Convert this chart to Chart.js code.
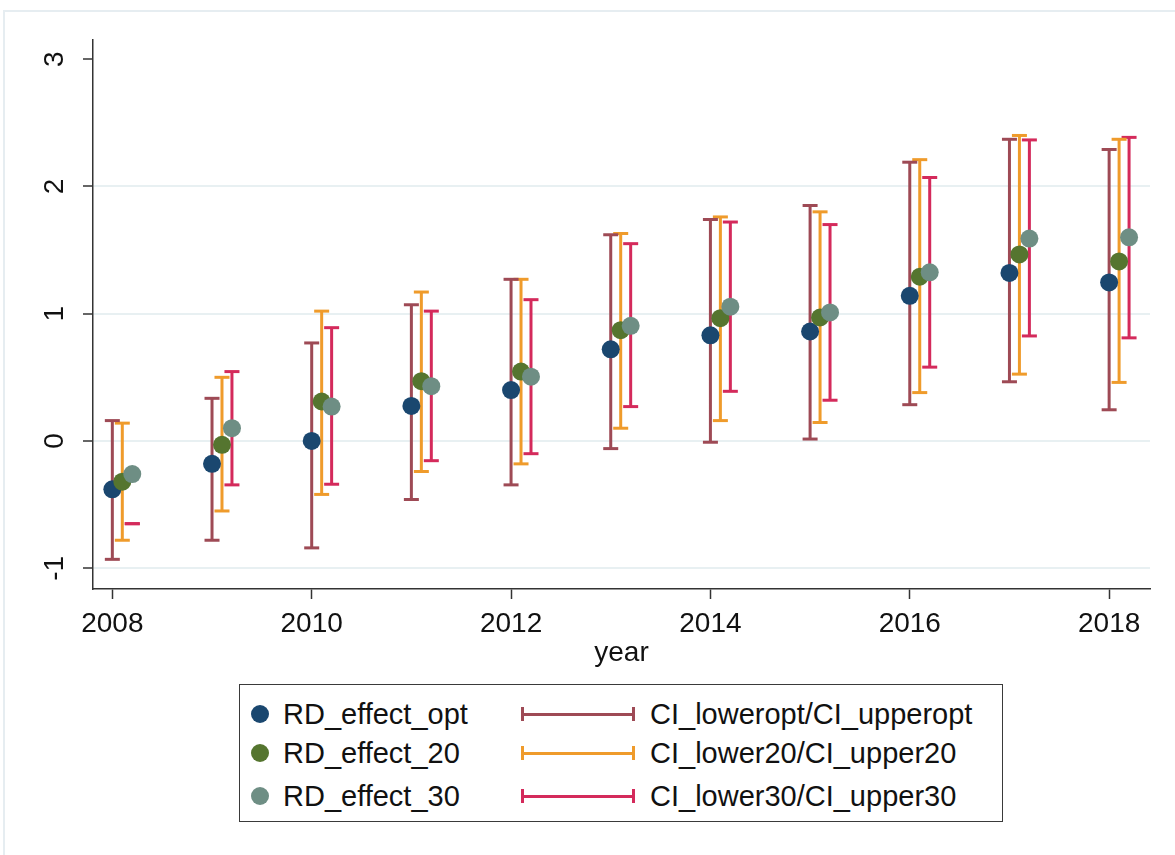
<!DOCTYPE html>
<html>
<head>
<meta charset="utf-8">
<title>RD effects by year</title>
<script src="https://cdn.jsdelivr.net/npm/chart.js@4.4.1/dist/chart.umd.min.js"></script>
<style>
  html, body { margin: 0; padding: 0; background: #ffffff; }
  #wrap { position: relative; width: 1175px; height: 855px; overflow: hidden; font-family: "Liberation Sans", Arial, sans-serif; }
  #frame { position: absolute; left: 3px; top: 10px; width: 1200px; height: 900px; border-left: 2px solid #e6edf1; border-top: 2px solid #e6edf1; }
  #chart { position: absolute; left: 0; top: 0; }
  #legend { position: absolute; left: 239px; top: 684px; width: 762px; height: 136px; border: 1.5px solid #3a3a3a; background: #fff; }
  .item { position: absolute; height: 34px; display: flex; align-items: center; font-size: 29px; color: #111; white-space: nowrap; }
  .dot { position: absolute; width: 18px; height: 18px; border-radius: 50%; }
  .key { position: absolute; height: 14px; }
  .key .bar { position: absolute; left: 0; right: 0; top: 5.5px; height: 3px; }
  .key .cap { position: absolute; top: 0; width: 3px; height: 14px; }
</style>
</head>
<body>
<div id="wrap">
  <div id="frame"></div>
  <canvas id="chart" width="1175" height="855"></canvas>
  <div id="legend"></div>
</div>
<script>
// Survey years on the x axis
const years = [2008, 2009, 2010, 2011, 2012, 2013, 2014, 2015, 2016, 2017, 2018];

// Point estimates of the RD effect for the three bandwidths
const rdEffectOpt = [-0.38, -0.18, 0.00, 0.275, 0.40, 0.72, 0.83, 0.86, 1.14, 1.32, 1.245];
const rdEffect20  = [-0.32, -0.03, 0.31, 0.47, 0.545, 0.87, 0.965, 0.97, 1.29, 1.465, 1.41];
const rdEffect30  = [-0.26, 0.10, 0.27, 0.43, 0.505, 0.905, 1.055, 1.01, 1.325, 1.59, 1.60];

// Confidence interval bounds
const ciLowerOpt = [-0.93, -0.78, -0.84, -0.46, -0.345, -0.06, -0.01, 0.015, 0.285, 0.465, 0.245];
const ciUpperOpt = [0.16, 0.335, 0.77, 1.07, 1.27, 1.62, 1.74, 1.85, 2.19, 2.37, 2.29];
const ciLower20  = [-0.78, -0.55, -0.42, -0.24, -0.18, 0.10, 0.16, 0.145, 0.38, 0.525, 0.46];
const ciUpper20  = [0.14, 0.50, 1.02, 1.17, 1.27, 1.63, 1.76, 1.80, 2.21, 2.40, 2.37];
const ciLower30  = [-0.65, -0.345, -0.34, -0.155, -0.10, 0.27, 0.39, 0.32, 0.58, 0.825, 0.81];
const ciUpper30  = [-0.65, 0.545, 0.89, 1.02, 1.11, 1.55, 1.72, 1.70, 2.07, 2.365, 2.385];

// Axis ticks
const xTicks = [2008, 2010, 2012, 2014, 2016, 2018];
const yTicks = [-1, 0, 1, 2, 3];

const FONT = '"Liberation Sans", Arial, sans-serif';
const C = {
  navy: '#1a476f', forest: '#55752f', teal: '#6e8e84',
  maroon: '#9e4a55', orange: '#ef9b2b', cranberry: '#d42a5b'
};

// small horizontal shift so the three bandwidths sit side by side
const SHIFT = { opt: 0, b20: 0.1, b30: 0.2 };

function pointsOf(values, shift) {
  return years.map((yr, i) => ({ x: yr + shift, y: values[i] }));
}
// each interval is a two-point segment, separated by a gap
function capsOf(lower, upper, shift) {
  const out = [];
  years.forEach((yr, i) => {
    out.push({ x: yr + shift, y: lower[i] });
    out.push({ x: yr + shift, y: upper[i] });
    out.push({ x: yr + shift, y: null });
  });
  return out;
}

function dotSet(label, values, shift, color, order) {
  return {
    type: 'scatter', label, data: pointsOf(values, shift), order,
    pointRadius: 9, pointHoverRadius: 9, pointBackgroundColor: color,
    pointBorderColor: color, pointBorderWidth: 0, showLine: false
  };
}
function capSet(label, lower, upper, shift, color) {
  return {
    type: 'line', label, data: capsOf(lower, upper, shift), order: 10,
    borderColor: color, borderWidth: 3, spanGaps: false, tension: 0,
    pointStyle: 'line', pointRadius: 7.5, pointHoverRadius: 7.5,
    pointBorderColor: color, pointBorderWidth: 3, fill: false
  };
}

const datasets = [
  capSet('CI_loweropt/CI_upperopt', ciLowerOpt, ciUpperOpt, SHIFT.opt, C.maroon),
  capSet('CI_lower20/CI_upper20', ciLower20, ciUpper20, SHIFT.b20, C.orange),
  capSet('CI_lower30/CI_upper30', ciLower30, ciUpper30, SHIFT.b30, C.cranberry),
  dotSet('RD_effect_opt', rdEffectOpt, SHIFT.opt, C.navy, 3),
  dotSet('RD_effect_20', rdEffect20, SHIFT.b20, C.forest, 2),
  dotSet('RD_effect_30', rdEffect30, SHIFT.b30, C.teal, 1)
];

const tickFont = { family: FONT, size: 28 };

const chart = new Chart(document.getElementById('chart'), {
  type: 'scatter',
  data: { datasets },
  options: {
    responsive: false,
    animation: false,
    events: [],
    layout: { padding: { left: 0, top: 40, right: 25, bottom: 185 } },
    plugins: { legend: { display: false }, tooltip: { enabled: false } },
    scales: {
      x: {
        type: 'linear', min: 2007.806, max: 2018.41,
        afterBuildTicks: s => { s.ticks = xTicks.map(v => ({ value: v })); },
        afterFit: s => { s.height = 81; },
        ticks: { font: tickFont, color: '#111', padding: 8, maxRotation: 0, autoSkip: false,
                 callback: v => String(v) },
        grid: { drawOnChartArea: false, tickLength: 10, tickColor: '#333', tickWidth: 1.5 },
        border: { display: true, color: '#333', width: 1.5 },
        title: { display: true, text: 'year', font: tickFont, color: '#111', padding: { top: 0, bottom: 0 } }
      },
      y: {
        type: 'linear', min: -1.163, max: 3.15,
        afterBuildTicks: s => { s.ticks = yTicks.map(v => ({ value: v })); },
        afterFit: s => { s.width = 93; },
        ticks: { font: tickFont, color: '#111', padding: 15, minRotation: 90, maxRotation: 90,
                 crossAlign: 'center', autoSkip: false, callback: v => String(v) },
        grid: {
          color: ctx => (ctx.tick && ctx.tick.value === 3) ? 'rgba(0,0,0,0)' : '#e8f0f2',
          lineWidth: 2, tickLength: 10, tickColor: '#333', tickWidth: 1.5
        },
        border: { display: true, color: '#333', width: 1.5 }
      }
    }
  }
});

// Legend: two columns (markers | intervals), three rows
(function buildLegend() {
  const box = document.getElementById('legend');
  const byLabel = {};
  chart.data.datasets.forEach(d => { byLabel[d.label] = d; });
  const rows = [
    ['RD_effect_opt', 'CI_loweropt/CI_upperopt'],
    ['RD_effect_20', 'CI_lower20/CI_upper20'],
    ['RD_effect_30', 'CI_lower30/CI_upper30']
  ];
  const rowY = [29, 68, 111];
  rows.forEach((pair, r) => {
    const cy = rowY[r];
    const dot = byLabel[pair[0]];
    const d = document.createElement('div');
    d.className = 'dot';
    d.style.left = (20 - 9) + 'px';
    d.style.top = (cy - 9) + 'px';
    d.style.background = dot.pointBackgroundColor;
    box.appendChild(d);
    const t1 = document.createElement('div');
    t1.className = 'item';
    t1.style.left = '43px';
    t1.style.top = (cy - 17) + 'px';
    t1.textContent = pair[0];
    box.appendChild(t1);

    const ci = byLabel[pair[1]];
    const k = document.createElement('div');
    k.className = 'key';
    k.style.left = '281px';
    k.style.width = '114px';
    k.style.top = (cy - 7) + 'px';
    k.innerHTML = '<div class="bar"></div><div class="cap" style="left:0"></div><div class="cap" style="right:0"></div>';
    k.querySelectorAll('div').forEach(el => { el.style.background = ci.borderColor; });
    box.appendChild(k);
    const t2 = document.createElement('div');
    t2.className = 'item';
    t2.style.left = '410px';
    t2.style.top = (cy - 17) + 'px';
    t2.textContent = pair[1];
    box.appendChild(t2);
  });
})();
</script>
</body>
</html>
